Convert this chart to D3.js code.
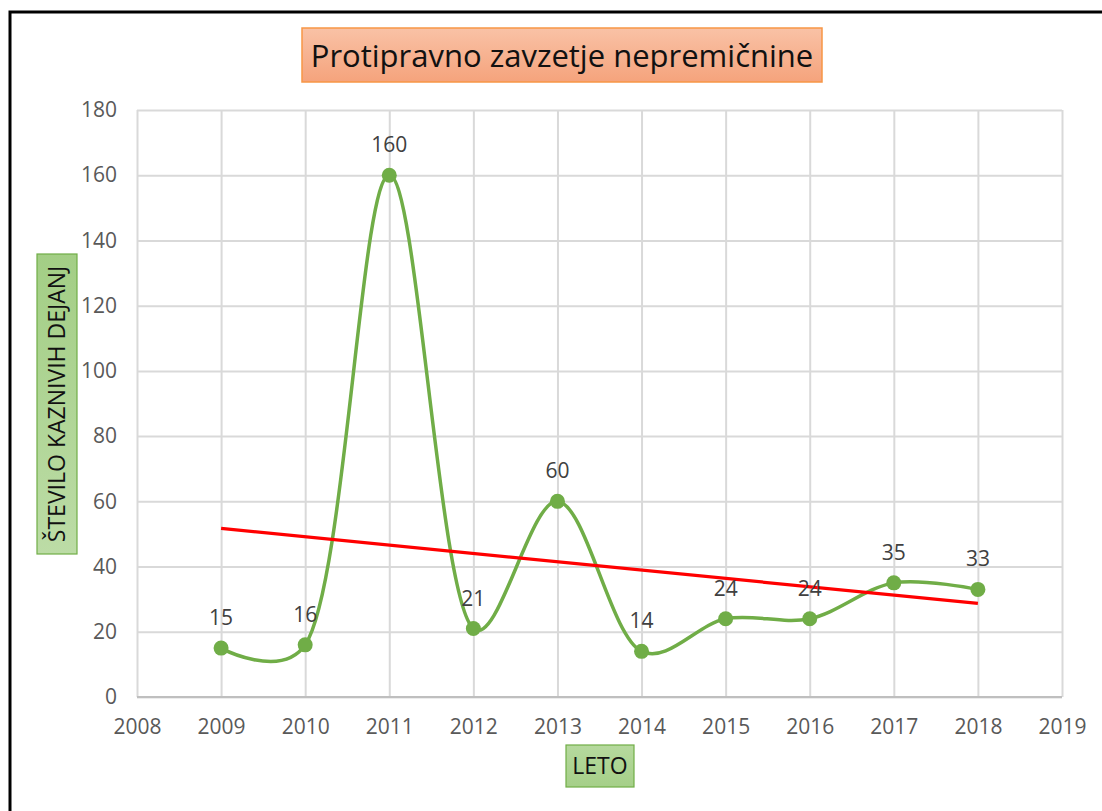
<!DOCTYPE html>
<html>
<head>
<meta charset="utf-8">
<script src="https://cdn.jsdelivr.net/npm/d3@7"></script>
<style>
    body { margin: 0; background: #fff; }
    text { font-family: "Open Sans", "Noto Sans", sans-serif; }
    .tick line { stroke: #d9d9d9; stroke-width: 2; }
    .domain { display: none; }
    .tick text { fill: #595959; font-size: 21px; }
</style>
</head>
<body>
<div id="chart"></div>
<script>
// data
var years = [2009, 2010, 2011, 2012, 2013, 2014, 2015, 2016, 2017, 2018];
var counts = [15, 16, 160, 21, 60, 14, 24, 24, 35, 33];
var xTicks = [2008, 2009, 2010, 2011, 2012, 2013, 2014, 2015, 2016, 2017, 2018, 2019];
var yTicks = [0, 20, 40, 60, 80, 100, 120, 140, 160, 180];
var title = "Protipravno zavzetje nepremičnine";
var yTitle = "ŠTEVILO KAZNIVIH DEJANJ";
var xTitle = "LETO";

var w = 1102;
var h = 811;
var plot = {left: 137, right: 1062, top: 110, bottom: 697};

var dataset = years.map(function(y, i) { return {year: y, count: counts[i]}; });

var svg = d3.select("#chart")
    .append("svg")
    .attr("width", w)
    .attr("height", h);

//gradients for the boxes
var defs = svg.append("defs");
function grad(id, c1, c2) {
    var g = defs.append("linearGradient").attr("id", id)
        .attr("x1", 0).attr("y1", 0).attr("x2", 0).attr("y2", 1);
    g.append("stop").attr("offset", "0%").attr("stop-color", c1);
    g.append("stop").attr("offset", "100%").attr("stop-color", c2);
}
grad("orangeGrad", "#f9c2a6", "#f5a37c");
grad("greenGrad", "#b6d99e", "#a5cf88");
grad("greenGradV", "#a3ce85", "#bcdca6");

//outer frame, runs off the right and bottom edge
svg.append("rect")
    .attr("x", 10).attr("y", 12)
    .attr("width", w + 20).attr("height", h + 20)
    .attr("fill", "none")
    .attr("stroke", "#000")
    .attr("stroke-width", 3);

//scales
var xScale = d3.scaleLinear()
    .domain([2008, 2019])
    .range([plot.left, plot.right]);

var yScale = d3.scaleLinear()
    .domain([0, 180])
    .range([plot.bottom, plot.top]);

//gridlines + tick labels
var xAxis = d3.axisBottom(xScale)
    .tickValues(xTicks)
    .tickFormat(d3.format("d"))
    .tickSize(-(plot.bottom - plot.top))
    .tickPadding(22);

var yAxis = d3.axisLeft(yScale)
    .tickValues(yTicks)
    .tickSize(-(plot.right - plot.left))
    .tickPadding(20);

svg.append("g")
    .attr("transform", "translate(0," + plot.bottom + ")")
    .call(xAxis);

svg.append("g")
    .attr("transform", "translate(" + plot.left + ",0)")
    .call(yAxis);

//x axis line a bit darker
svg.append("line")
    .attr("x1", plot.left).attr("x2", plot.right)
    .attr("y1", yScale(0)).attr("y2", yScale(0))
    .attr("stroke", "#bfbfbf")
    .attr("stroke-width", 2);

//smoothed line (excel style smoothing ~ catmull-rom)
var line = d3.line()
    .x(function(d) { return xScale(d.year); })
    .y(function(d) { return yScale(d.count); })
    .curve(d3.curveCatmullRom.alpha(0.3));

svg.append("path")
    .datum(dataset)
    .attr("d", line)
    .attr("fill", "none")
    .attr("stroke", "#70ad47")
    .attr("stroke-width", 3.5);

//linear trendline (least squares)
var xm = d3.mean(years), ym = d3.mean(counts);
var slope = d3.sum(dataset, function(d) { return (d.year - xm) * (d.count - ym); }) /
    d3.sum(dataset, function(d) { return (d.year - xm) * (d.year - xm); });
var trend = [years[0], years[years.length - 1]].map(function(y) {
    return {year: y, count: ym + slope * (y - xm)};
});

//markers
svg.selectAll(".dot")
    .data(dataset)
    .enter().append("circle")
    .attr("class", "dot")
    .attr("cx", function(d) { return xScale(d.year); })
    .attr("cy", function(d) { return yScale(d.count); })
    .attr("r", 7.5)
    .attr("fill", "#70ad47");

svg.append("path")
    .datum(trend)
    .attr("d", d3.line()
        .x(function(d) { return xScale(d.year); })
        .y(function(d) { return yScale(d.count); }))
    .attr("stroke", "#ff0000")
    .attr("stroke-width", 3.2);

//data labels
svg.selectAll(".lbl")
    .data(dataset)
    .enter().append("text")
    .attr("class", "lbl")
    .attr("x", function(d) { return xScale(d.year); })
    .attr("y", function(d) { return yScale(d.count) - 23; })
    .attr("text-anchor", "middle")
    .attr("font-size", 21)
    .attr("fill", "#404040")
    .text(function(d) { return d.count; });

//title box
svg.append("rect")
    .attr("x", 302).attr("y", 28)
    .attr("width", 520).attr("height", 54)
    .attr("fill", "url(#orangeGrad)")
    .attr("stroke", "#f79646")
    .attr("stroke-width", 1.5);
svg.append("text")
    .attr("x", 562).attr("y", 67)
    .attr("text-anchor", "middle")
    .attr("font-size", 31)
    .attr("fill", "#111")
    .text(title);

//y axis title
svg.append("rect")
    .attr("x", 37).attr("y", 254)
    .attr("width", 40).attr("height", 300)
    .attr("fill", "url(#greenGradV)")
    .attr("stroke", "#70ad47")
    .attr("stroke-width", 1.2);
svg.append("text")
    .attr("transform", "translate(65,404) rotate(-90)")
    .attr("text-anchor", "middle")
    .attr("font-size", 23)
    .attr("fill", "#111")
    .text(yTitle);

//x axis title
svg.append("rect")
    .attr("x", 566).attr("y", 745)
    .attr("width", 68).attr("height", 42)
    .attr("fill", "url(#greenGrad)")
    .attr("stroke", "#70ad47")
    .attr("stroke-width", 1.2);
svg.append("text")
    .attr("x", 600).attr("y", 774)
    .attr("text-anchor", "middle")
    .attr("font-size", 23)
    .attr("fill", "#111")
    .text(xTitle);
</script>
</body>
</html>
